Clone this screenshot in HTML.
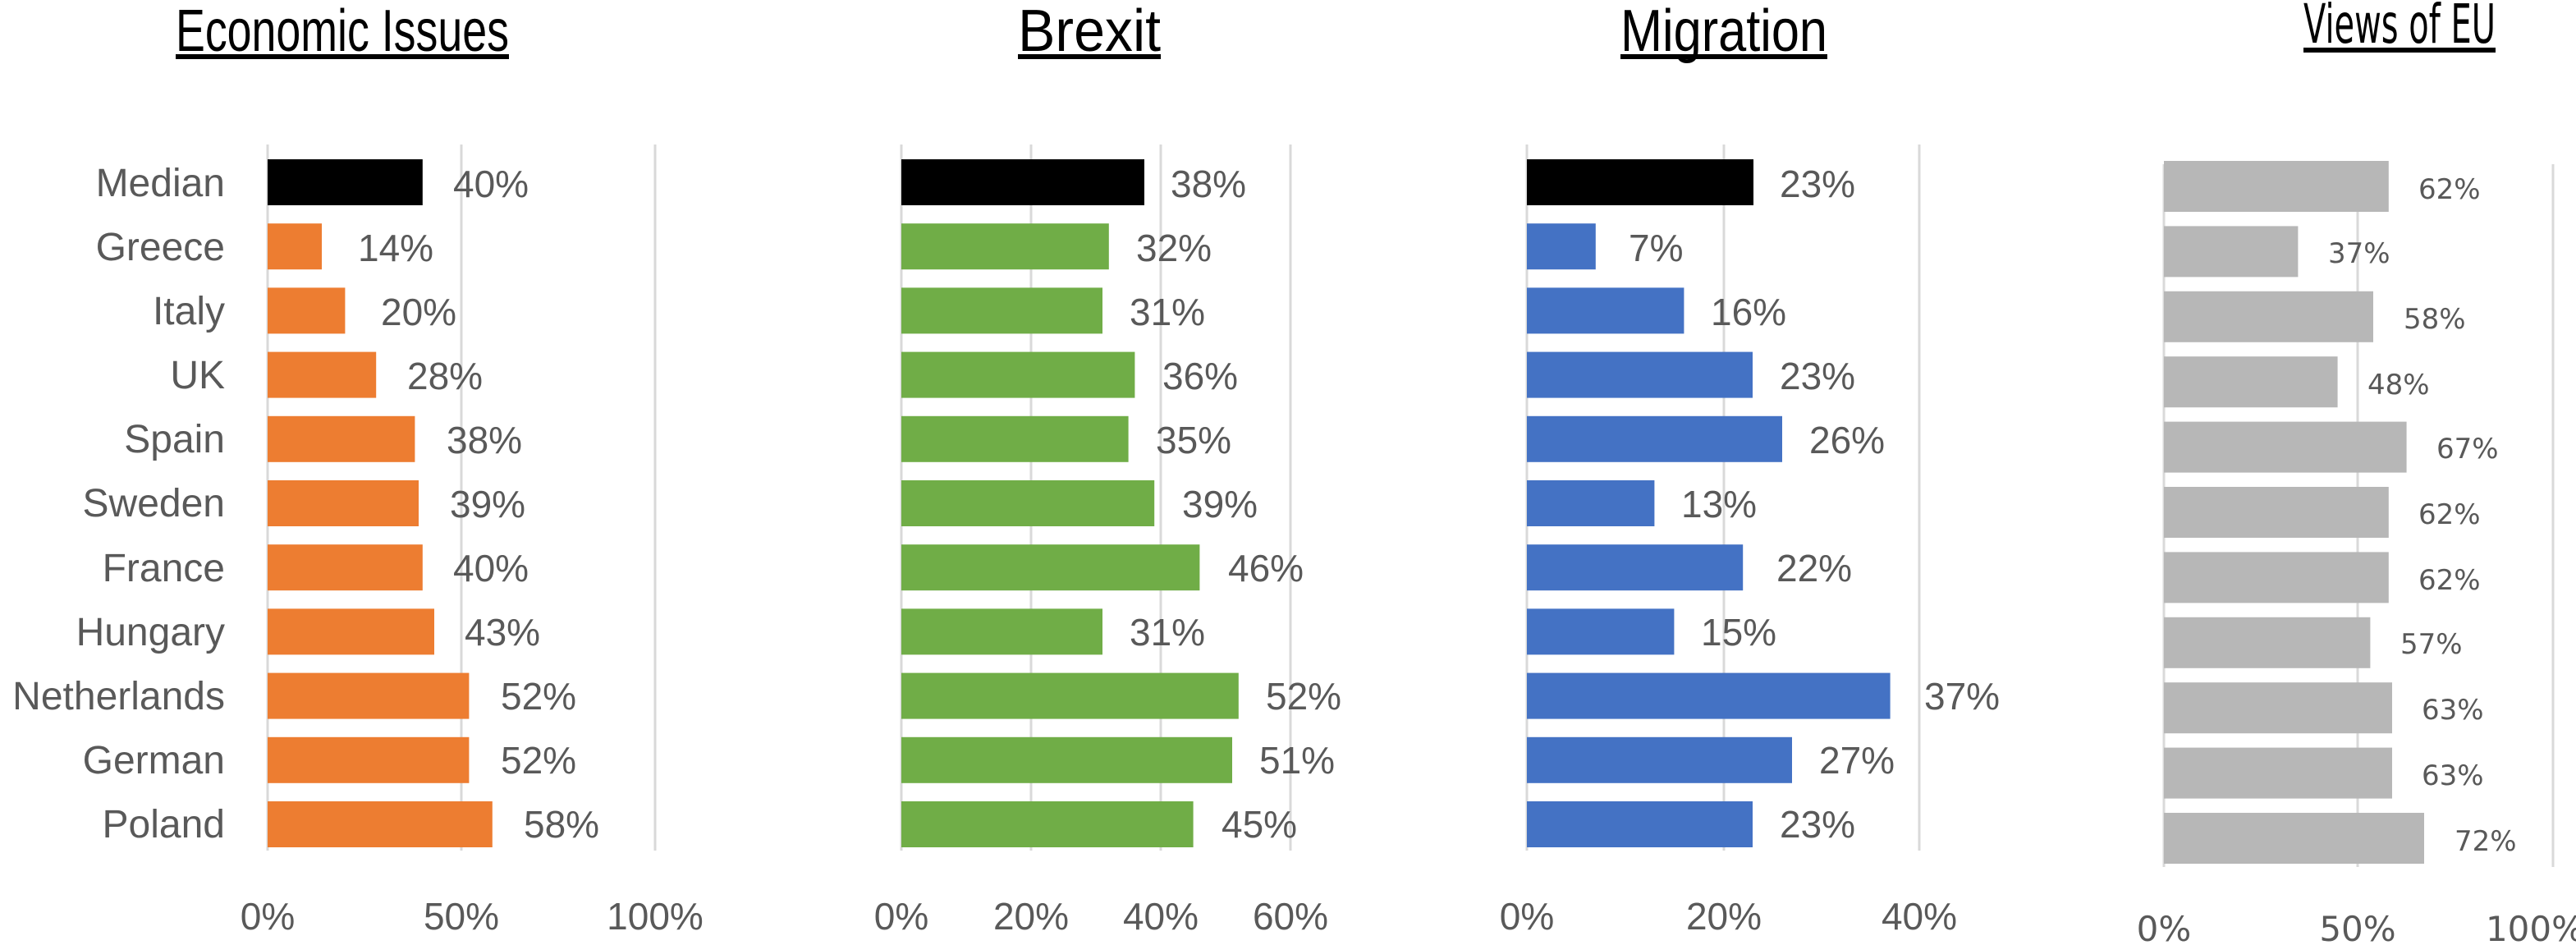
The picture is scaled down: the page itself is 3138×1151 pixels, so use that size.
<!DOCTYPE html>
<html><head><meta charset="utf-8"><style>
html,body{margin:0;padding:0;background:#fff;width:3138px;height:1151px;overflow:hidden}
svg{display:block}
.c{font-family:"Liberation Sans",sans-serif;fill:#595959;font-size:23px}
.l{font-family:"Liberation Sans",sans-serif;fill:#595959;font-size:24px}
.d{font-family:"DejaVu Sans",sans-serif;fill:#595959;font-size:17px}
.t{font-family:"Liberation Sans",sans-serif;fill:#000;font-size:36px}
.g{stroke:#d9d9d9;stroke-width:1.5}
</style></head><body>
<svg width="3138" height="1151" viewBox="0 0 1569 575.5">
<text class="t" x="107" y="31" textLength="203" lengthAdjust="spacingAndGlyphs">Economic Issues</text>
<rect x="107" y="33" width="203" height="3" fill="#000"/>
<text class="t" x="620" y="31" textLength="87" lengthAdjust="spacingAndGlyphs">Brexit</text>
<rect x="620" y="33" width="87" height="3" fill="#000"/>
<text class="t" x="987" y="31" textLength="126" lengthAdjust="spacingAndGlyphs">Migration</text>
<rect x="987" y="33" width="126" height="3" fill="#000"/>
<text class="t" style="font-family:'DejaVu Sans',sans-serif;font-size:33px" x="1403" y="26" textLength="117" lengthAdjust="spacingAndGlyphs">Views of EU</text>
<rect x="1403" y="29" width="117" height="3" fill="#000"/>

<g class="g">
<line x1="163" y1="88" x2="163" y2="518"/><line x1="281" y1="88" x2="281" y2="518"/><line x1="399" y1="88" x2="399" y2="518"/>
<line x1="549" y1="88" x2="549" y2="518"/><line x1="628" y1="88" x2="628" y2="518"/><line x1="707" y1="88" x2="707" y2="518"/><line x1="786" y1="88" x2="786" y2="518"/>
<line x1="930" y1="88" x2="930" y2="518"/><line x1="1050" y1="88" x2="1050" y2="518"/><line x1="1169" y1="88" x2="1169" y2="518"/>
<line x1="1318" y1="100" x2="1318" y2="528"/><line x1="1436" y1="100" x2="1436" y2="528"/><line x1="1555" y1="100" x2="1555" y2="528"/>
</g>

<g class="l" text-anchor="end">
<text x="137" y="119.5">Median</text><text x="137" y="158.5">Greece</text><text x="137" y="197.5">Italy</text><text x="137" y="236.5">UK</text><text x="137" y="275.5">Spain</text><text x="137" y="314.5">Sweden</text><text x="137" y="354">France</text><text x="137" y="393">Hungary</text><text x="137" y="432">Netherlands</text><text x="137" y="471">German</text><text x="137" y="510">Poland</text>
</g>

<rect x="163" y="97" width="94.4" height="28" fill="#000"/>
<g fill="#ED7D31">
<rect x="163" y="136.1" width="33" height="28"/><rect x="163" y="175.2" width="47.2" height="28"/><rect x="163" y="214.3" width="66.1" height="28"/><rect x="163" y="253.4" width="89.7" height="28"/><rect x="163" y="292.5" width="92" height="28"/><rect x="163" y="331.6" width="94.4" height="28"/><rect x="163" y="370.7" width="101.5" height="28"/><rect x="163" y="409.8" width="122.7" height="28"/><rect x="163" y="448.9" width="122.7" height="28"/><rect x="163" y="488" width="136.9" height="28"/>
</g>
<g class="c">
<text x="276" y="120">40%</text><text x="218" y="159">14%</text><text x="232" y="198">20%</text><text x="248" y="237">28%</text><text x="272" y="276">38%</text><text x="274" y="315">39%</text><text x="276" y="354">40%</text><text x="283" y="393">43%</text><text x="305" y="432">52%</text><text x="305" y="471">52%</text><text x="319" y="510">58%</text>
</g>

<rect x="549" y="97" width="148" height="28" fill="#000"/>
<g fill="#70AD47">
<rect x="549" y="136.1" width="126.4" height="28"/><rect x="549" y="175.2" width="122.5" height="28"/><rect x="549" y="214.3" width="142.2" height="28"/><rect x="549" y="253.4" width="138.3" height="28"/><rect x="549" y="292.5" width="154.1" height="28"/><rect x="549" y="331.6" width="181.7" height="28"/><rect x="549" y="370.7" width="122.5" height="28"/><rect x="549" y="409.8" width="205.4" height="28"/><rect x="549" y="448.9" width="201.5" height="28"/><rect x="549" y="488" width="177.8" height="28"/>
</g>
<g class="c">
<text x="713" y="120">38%</text><text x="692" y="159">32%</text><text x="688" y="198">31%</text><text x="708" y="237">36%</text><text x="704" y="276">35%</text><text x="720" y="315">39%</text><text x="748" y="354">46%</text><text x="688" y="393">31%</text><text x="771" y="432">52%</text><text x="767" y="471">51%</text><text x="744" y="510">45%</text>
</g>

<rect x="930" y="97" width="138" height="28" fill="#000"/>
<g fill="#4472C4">
<rect x="930" y="136.1" width="41.9" height="28"/><rect x="930" y="175.2" width="95.7" height="28"/><rect x="930" y="214.3" width="137.5" height="28"/><rect x="930" y="253.4" width="155.5" height="28"/><rect x="930" y="292.5" width="77.7" height="28"/><rect x="930" y="331.6" width="131.6" height="28"/><rect x="930" y="370.7" width="89.7" height="28"/><rect x="930" y="409.8" width="221.3" height="28"/><rect x="930" y="448.9" width="161.5" height="28"/><rect x="930" y="488" width="137.5" height="28"/>
</g>
<g class="c">
<text x="1084" y="120">23%</text><text x="992" y="159">7%</text><text x="1042" y="198">16%</text><text x="1084" y="237">23%</text><text x="1102" y="276">26%</text><text x="1024" y="315">13%</text><text x="1082" y="354">22%</text><text x="1036" y="393">15%</text><text x="1172" y="432">37%</text><text x="1108" y="471">27%</text><text x="1084" y="510">23%</text>
</g>

<g fill="#B7B7B7">
<rect x="1318" y="98" width="136.9" height="31"/><rect x="1318" y="137.7" width="81.7" height="31"/><rect x="1318" y="177.4" width="127.5" height="31"/><rect x="1318" y="217.1" width="105.8" height="31"/><rect x="1318" y="256.8" width="147.8" height="31"/><rect x="1318" y="296.5" width="136.9" height="31"/><rect x="1318" y="336.2" width="136.9" height="31"/><rect x="1318" y="375.9" width="125.7" height="31"/><rect x="1318" y="415.6" width="139" height="31"/><rect x="1318" y="455.3" width="139" height="31"/><rect x="1318" y="495" width="158.5" height="31"/>
</g>
<g class="d">
<text x="1473" y="121">62%</text><text x="1418" y="160">37%</text><text x="1464" y="200">58%</text><text x="1442" y="240">48%</text><text x="1484" y="279">67%</text><text x="1473" y="319">62%</text><text x="1473" y="359">62%</text><text x="1462" y="398">57%</text><text x="1475" y="438">63%</text><text x="1475" y="478">63%</text><text x="1495" y="518">72%</text>
</g>

<g class="c" text-anchor="middle">
<text x="163" y="566">0%</text><text x="281" y="566">50%</text><text x="399" y="566">100%</text>
<text x="549" y="566">0%</text><text x="628" y="566">20%</text><text x="707" y="566">40%</text><text x="786" y="566">60%</text>
<text x="930" y="566">0%</text><text x="1050" y="566">20%</text><text x="1169" y="566">40%</text>
</g>
<g class="d" text-anchor="middle" style="font-size:21px">
<text x="1318" y="573">0%</text><text x="1436" y="573">50%</text><text x="1544" y="573">100%</text>
</g>
</svg>
</body></html>
